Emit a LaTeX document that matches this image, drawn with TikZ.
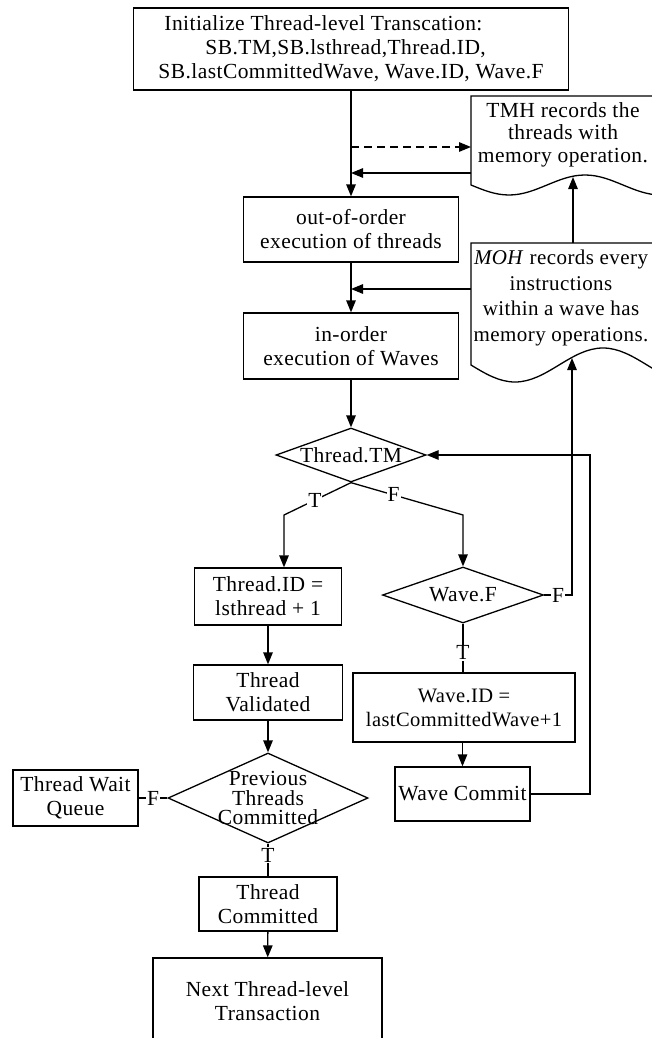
\documentclass[tikz,border=0pt]{standalone}
\usepackage{fontspec}
\setmainfont{Liberation Serif}[LetterSpace=2]
\usetikzlibrary{shapes.geometric,arrows.meta}
\begin{document}
\begin{tikzpicture}[x=1pt,y=-1pt,
  every node/.style={font=\fontsize{21.5}{24}\selectfont},
  box/.style={draw, line width=1.3pt, inner sep=0pt, align=center},
  dia/.style={draw, diamond, line width=1.3pt, inner sep=0pt},
  arr/.style={line width=1.3pt, -{Triangle[length=12pt,width=9.5pt]}},
  ln/.style={line width=1.3pt},
  lab/.style={fill=white, inner sep=1pt},
  doc/.style={line width=1.3pt}
]
\useasboundingbox (0,0) rectangle (652,1038);
\fill[white] (0,0) rectangle (652,1038);
\clip (0,0) rectangle (652,1038);

% boxes
\node[box, minimum width=435pt, minimum height=82pt, align=left] (init) at (351,49)
  {\hspace*{6pt}Initialize Thread-level Transcation:\\
   \hspace*{47pt}SB.TM,SB.lsthread,Thread.ID,\\
   SB.lastCommittedWave, Wave.ID, Wave.F};
\node[box, minimum width=215pt, minimum height=65pt] (ooo) at (351,229.5) {out-of-order\\execution of threads};
\node[box, minimum width=215pt, minimum height=66pt] (ino) at (351,346) {in-order\\execution of Waves};
\node[dia, minimum width=150pt, minimum height=54pt, label=center:{Thread.TM}] (ttm) at (351,455) {};
\node[box, minimum width=147pt, minimum height=57pt] (tid) at (268,596.5) {Thread.ID =\\lsthread + 1};
\node[dia, minimum width=161pt, minimum height=56pt, label=center:{Wave.F}] (wf) at (463,595) {};
\node[box, minimum width=222pt, minimum height=69pt, font=\fontsize{20.5}{24}\selectfont] (wid) at (464,707.5) {Wave.ID =\\lastCommittedWave+1};
\node[box, minimum width=135pt, minimum height=54pt] (wc) at (462.5,794) {Wave Commit};
\node[box, minimum width=149pt, minimum height=55pt] (tv) at (268,692.5) {Thread\\Validated};
\node[dia, minimum width=200pt, minimum height=90pt,
  label={[align=center, font=\fontsize{21.5}{19.5}\selectfont]center:Previous\\Threads\\Committed}] (ptc) at (268,798) {};
\node[box, minimum width=125pt, minimum height=56pt] (twq) at (75.5,798) {Thread Wait\\Queue};
\node[box, minimum width=138pt, minimum height=54pt] (tc) at (268,904) {Thread\\Committed};
\node[box, minimum width=229pt, minimum height=86pt] (next) at (267.5,1001) {Next Thread-level\\Transaction};

% document shapes
\draw[doc] (661,96) -- (471,96) -- (471,185) sin (509,195) cos (547,185) sin (585,175) cos (623,185) sin (661,195) -- cycle;
\node[align=center, font=\fontsize{21.5}{22.5}\selectfont] (tmh) at (563,134.5) {TMH records the\\threads with\\memory operation.};
\draw[doc] (691,243) -- (471,243) -- (471,365) sin (515,382) cos (559,365) sin (603,348) cos (647,365) sin (691,382) -- cycle;
\node[align=center, font=\fontsize{21}{25.5}\selectfont] (moh) at (561,298) {\textit{MOH} records every\\instructions\\within a wave has\\memory operations.};

% coordinates
\coordinate (j1) at (351,147);
\coordinate (j2) at (351,173);
\coordinate (j3) at (351,289);
\coordinate (tmhA) at (471,147);
\coordinate (tmhB) at (471,173);
\coordinate (mohA) at (471,289);
\coordinate (tmhbot) at (573,177);
\coordinate (mohtop) at (573,243);
\coordinate (mohbot) at (572,358);
\coordinate (tb) at (284,515);
\coordinate (fb) at (463,515);
\coordinate (rb) at (590,455);

% connectors
\draw[arr] (init) -- (ooo);
\draw[arr, dash pattern=on 8pt off 5pt] (j1) -- (tmhA);
\draw[arr] (tmhB) -- (j2);
\draw[arr] (ooo) -- (ino);
\draw[arr] (mohA) -- (j3);
\draw[arr] (mohtop) -- (tmhbot);
\draw[arr] (ino) -- (ttm);
\draw[arr] (ttm.south) -- node[lab, pos=0.54]{T} (tb) -- (tb |- tid.north);
\draw[arr] (ttm.south) -- node[lab, pos=0.38]{F} (fb) -- (fb |- wf.north);
\draw[arr] (tid) -- (tv);
\draw[arr] (tv) -- (ptc);
\draw[ln] (ptc.west) -- node[lab]{F} (twq.east);
\draw[ln] (ptc.south) -- node[lab, pos=0.35]{T} (tc.north);
\draw[arr] (tc) -- (next);
\draw[ln] (wf.south) -- node[lab, pos=0.6]{T} (wf.south |- wid.north);
\draw[arr] (wid.south -| wc) -- (wc.north);
\draw[arr] (wf.east) -- node[lab]{F} (wf.east -| mohbot) -- (mohbot);
\draw[arr] (wc.east) -| (rb) -- (ttm.east);
\end{tikzpicture}
\end{document}
